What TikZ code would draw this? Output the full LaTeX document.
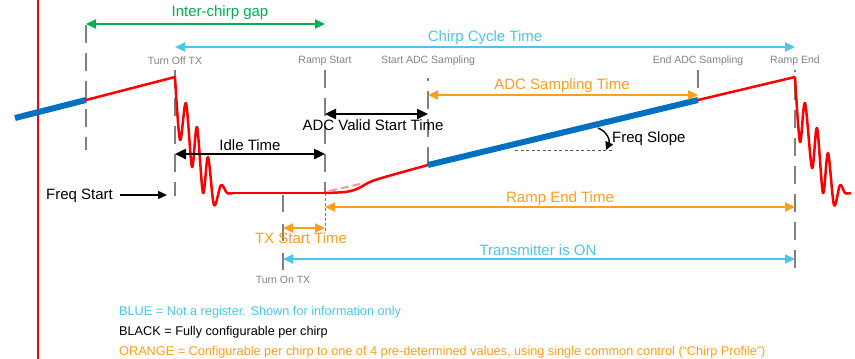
\documentclass[tikz,border=0pt]{standalone}
\usepackage{fontspec}
\setmainfont{Liberation Sans}
\usetikzlibrary{arrows.meta}
\definecolor{cgreen}{RGB}{0,176,80}
\definecolor{ccyan}{RGB}{75,198,232}
\definecolor{corange}{RGB}{255,158,27}
\definecolor{cblue}{RGB}{0,112,192}
\definecolor{cgrey}{RGB}{128,128,128}
\definecolor{cgreytxt}{RGB}{130,130,130}
\definecolor{cred}{RGB}{255,0,0}
\definecolor{cpink}{RGB}{255,150,150}
\begin{document}
\begin{tikzpicture}[x=1pt,y=-1pt,
  big/.style={font=\fontsize{15}{18}\selectfont, inner sep=0pt},
  mid/.style={font=\fontsize{15}{18}\selectfont, inner sep=0pt},
  tick/.style={font=\fontsize{10.5}{12}\selectfont, text=cgreytxt, inner sep=0pt},
  legend/.style={font=\fontsize{12.7}{15}\selectfont, inner sep=0pt, anchor=west},
  dimline/.style={line width=2pt, {Triangle[length=10pt,width=9pt]}-{Triangle[length=10pt,width=9pt]}},
  blkdim/.style={line width=2.4pt, {Triangle[length=11pt,width=10pt]}-{Triangle[length=11pt,width=10pt]}},
  greyline/.style={draw=cgrey, line width=2pt, dash pattern=on 18pt off 10pt},
  redline/.style={draw=cred, line width=2.5pt, line join=round},
  blueth/.style={draw=cblue, line width=6pt},
]
\useasboundingbox (0,0) rectangle (855,359);

% left red border line
\draw[cred, line width=1.5pt] (38,0) -- (38,359);

% vertical grey markers
\draw[greyline] (86,25) -- (86,150);
\draw[greyline] (175,70) -- (175,196);
\draw[greyline] (325,70) -- (325,193);
\draw[cgrey, line width=0.8pt, dash pattern=on 3pt off 2pt] (325,193) -- (325,232);
\draw[greyline] (428,165) -- (428,78);
\draw[greyline] (698,70) -- (698,90);
\draw[greyline] (795,268) -- (795,70);
\draw[greyline, dash pattern=on 17pt off 12pt] (283,195) -- (283,271);

% waveform
\draw[blueth] (15,118) -- (86,100);
\draw[redline] (86,100) -- (175,77);
\draw[redline] plot[smooth, tension=0.55] coordinates {(175,77) (180,140) (186,103) (192,167) (197,127) (203,193) (208,157) (214,205) (221,185) (227,193) (233,193)};
\draw[redline] (233,193) -- (325,193);
\draw[redline] plot[smooth, tension=0.5] coordinates {(325,193) (345,192) (357,189) (370,182) (385,177) (428,165)};
\draw[cpink, line width=2pt, dash pattern=on 8pt off 4pt] (329,191) -- (360,184);
\draw[blueth] (428,165) -- (698,100);
\draw[redline] (698,100) -- (795,77);
\draw[redline] plot[smooth, tension=0.55] coordinates {(795,77) (800,142) (805,103) (812,168) (817,128) (823,193) (828,153) (834,205) (840,185) (845,193) (851,193)};

% freq slope
\draw[cgrey!70!black, line width=0.7pt, dash pattern=on 3pt off 2.5pt] (515,150) -- (612,150);
\coordinate (fsl1) at (598,128);
\coordinate (fsl2) at (606,150);
\draw[line width=1.4pt, -{Triangle[length=8pt,width=8pt]}] (fsl1) .. controls (608,132) and (610,141) .. (fsl2);
\node[mid, anchor=west] (tFsl) at (612,139) {Freq Slope};

% coordinates for dimension arrows
\coordinate (icgL) at (86,24);   \coordinate (icgR) at (325,24);
\coordinate (cctL) at (175,47);  \coordinate (cctR) at (795,47);
\coordinate (avsL) at (325,114); \coordinate (avsR) at (428,114);
\coordinate (idlL) at (175,154); \coordinate (idlR) at (325,154);
\coordinate (adcL) at (428,95);  \coordinate (adcR) at (698,95);
\coordinate (retL) at (325,207); \coordinate (retR) at (795,207);
\coordinate (txsL) at (283,228); \coordinate (txsR) at (325,228);
\coordinate (tonL) at (283,259); \coordinate (tonR) at (795,259);
\coordinate (fstA) at (120,195); \coordinate (fstB) at (167,195);

\draw[dimline, cgreen] (icgL) -- (icgR);
\draw[dimline, ccyan] (cctL) -- (cctR);
\draw[blkdim] (avsL) -- (avsR);
\draw[blkdim] (idlL) -- (idlR);
\draw[dimline, corange] (adcL) -- (adcR);
\draw[dimline, corange] (retL) -- (retR);
\draw[dimline, corange] (txsL) -- (txsR);
\draw[dimline, ccyan] (tonL) -- (tonR);
\draw[line width=1.4pt, -{Triangle[length=9pt,width=8pt]}] (fstA) -- (fstB);

% labels
\node[big, text=cgreen] (tIcg) at (220,13) {Inter-chirp gap};
\node[big, text=ccyan] (tCct) at (485,38) {Chirp Cycle Time};
\node[big, text=corange] (tAdc) at (562,86) {ADC Sampling Time};
\node[mid] (tAvs) at (373,125) {ADC Valid Start Time};
\node[mid] (tIdl) at (250,145) {Idle Time};
\node[mid, anchor=east] (tFst) at (113,196) {Freq Start};
\node[big, text=corange] (tRet) at (560,199) {Ramp End Time};
\node[big, text=corange] (tTxs) at (301,238) {TX Start Time};
\node[big, text=ccyan] (tTon) at (538,250) {Transmitter is ON};

\node[tick] (kOff) at (175,61) {Turn Off TX};
\node[tick] (kRs) at (325,61) {Ramp Start};
\node[tick] (kSadc) at (428,61) {Start ADC Sampling};
\node[tick] (kEadc) at (698,61) {End ADC Sampling};
\node[tick] (kRe) at (795,61) {Ramp End};
\node[tick] (kOn) at (283,280) {Turn On TX};

% legend
\node[legend, text=ccyan] (lg1) at (119,312) {BLUE = Not a register. Shown for information only};
\node[legend] (lg2) at (119,332) {BLACK = Fully configurable per chirp};
\node[legend, text=corange] (lg3) at (119,352) {ORANGE = Configurable per chirp to one of 4 pre-determined values, using single common control (“Chirp Profile”)};
\end{tikzpicture}
\end{document}
